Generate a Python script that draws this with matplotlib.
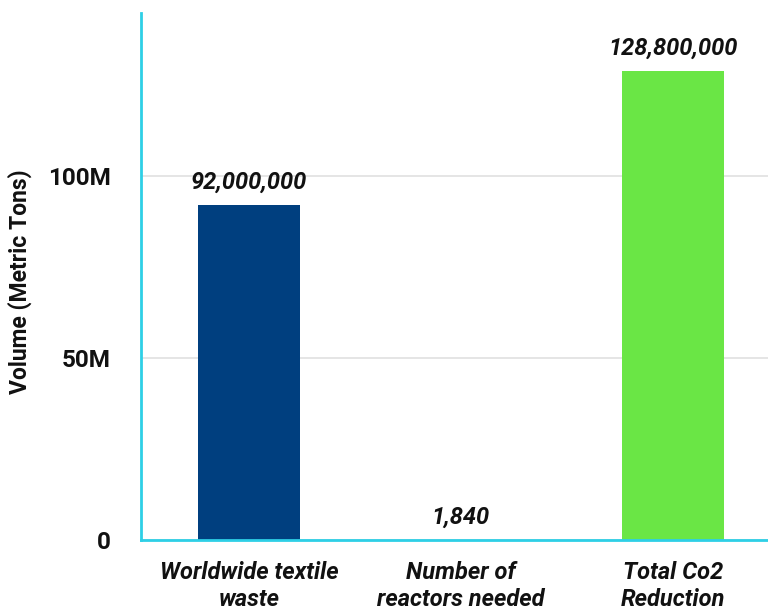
import matplotlib
matplotlib.use("Agg")
import matplotlib.pyplot as plt
from matplotlib.ticker import FuncFormatter

categories = ["Worldwide textile\nwaste", "Number of\nreactors needed", "Total Co2\nReduction"]
values = [92000000, 1840, 128800000]
value_labels = ["92,000,000", "1,840", "128,800,000"]
colors = ["#003f7f", "#003f7f", "#6ae645"]

plt.rcParams['font.family'] = ['Roboto', 'DejaVu Sans']

fig = plt.figure(figsize=(7.68, 6.10), dpi=100)
ax = fig.add_axes([141/768, 1 - 540/610, 1 - 141/768, (540 - 13)/610])

x = list(range(len(categories)))
bars = ax.bar(x, values, width=0.48, color=colors, zorder=3)

ax.set_xlim(-0.51, 2.45)
ax.set_ylim(0, 144.8e6)
ax.set_yticks([0, 50e6, 100e6])
ax.yaxis.set_major_formatter(FuncFormatter(lambda v, p: "0" if v == 0 else f"{int(v/1e6)}M"))

for xi, v, lab in zip(x, values, value_labels):
    ax.annotate(lab, (xi, v), xytext=(0, 8), textcoords="offset points",
                ha="center", va="bottom", fontsize=17, fontweight="bold",
                fontstyle="italic", color="#111111")

ax.set_xticks(x)
ax.set_xticklabels(categories, fontsize=17, fontweight="bold", fontstyle="italic",
                   color="#111111", linespacing=1.25)
for lab in ax.get_yticklabels():
    lab.set_fontsize(17.5)
    lab.set_fontweight("bold")
    lab.set_color("#111111")

ax.tick_params(axis="x", length=0, pad=15)
ax.tick_params(axis="y", length=0, pad=22)

ax.grid(axis="y", color="#e0e0e0", linewidth=1.2, zorder=0)
ax.set_axisbelow(True)

for s in ["top", "right"]:
    ax.spines[s].set_visible(False)
for s in ["left", "bottom"]:
    ax.spines[s].set_color("#2ecfe6")
    ax.spines[s].set_linewidth(2)
    ax.spines[s].set_zorder(4)

ax.set_ylabel("Volume (Metric Tons)", fontsize=16.5, fontweight="bold", color="#111111")
ax.yaxis.set_label_coords((32 - 141) / 627, 0.49)

fig.savefig("out.png", dpi=100)
